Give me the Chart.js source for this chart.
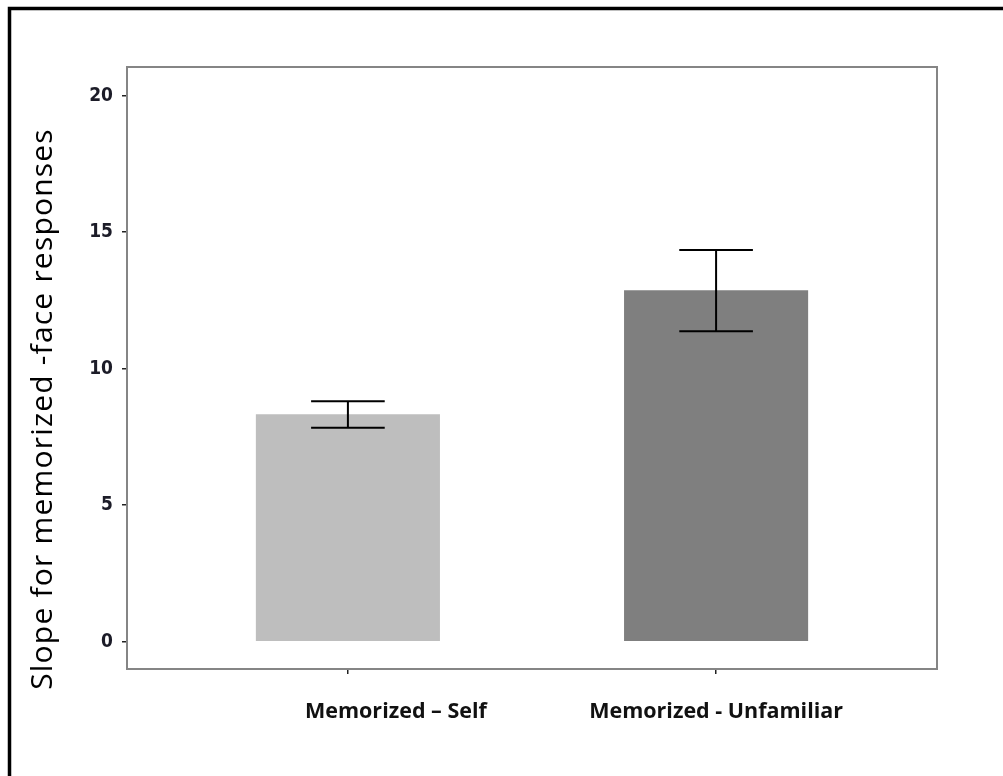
<!DOCTYPE html>
<html>
<head>
<meta charset="utf-8">
<script src="https://cdn.jsdelivr.net/npm/chart.js@4/dist/chart.umd.min.js"></script>
<style>
  html, body { margin: 0; padding: 0; background: #fff; }
  #wrap { position: relative; width: 1003px; height: 776px; }
</style>
</head>
<body>
<div id="wrap"><canvas id="c"></canvas></div>
<script>
// Conditions, mean slopes and the standard-error bounds for each bar
const categories = ['Memorized – Self', 'Memorized - Unfamiliar'];
const categoryPositions = [1, 2];
const meanSlope = [8.33, 12.87];
const errorLow = [7.84, 11.37];
const errorHigh = [8.81, 14.35];
const barColors = ['#bebebe', '#7f7f7f'];
const yTicks = [0, 5, 10, 15, 20];
const yTitle = 'Slope for memorized -face responses';

const tickFont = { family: '"Liberation Sans Narrow", "DejaVu Sans Condensed", "Liberation Sans", sans-serif', size: 19, weight: 'bold' };
const catFont = 'bold 21.5px "Open Sans", "Liberation Sans", sans-serif';

// Outer black frame, the grey panel box, the rotated y title and the condition labels
const framePlugin = {
  id: 'frame',
  beforeDraw(chart) {
    const ctx = chart.ctx;
    ctx.save();
    ctx.fillStyle = '#fff';
    ctx.fillRect(0, 0, chart.width, chart.height);
    ctx.strokeStyle = '#000';
    ctx.lineWidth = 3.5;
    ctx.strokeRect(9.5, 8.5, chart.width + 20, chart.height + 20);
    ctx.restore();
  },
  afterDraw(chart) {
    const { ctx, chartArea: a, scales: { x } } = chart;
    ctx.save();
    ctx.strokeStyle = '#858585';
    ctx.lineWidth = 2;
    ctx.strokeRect(a.left, a.top, a.right - a.left, a.bottom - a.top);

    // condition labels; the first one sits a little right of its tick
    const labelShift = [48, 0];
    ctx.fillStyle = '#111';
    ctx.font = catFont;
    ctx.textAlign = 'center';
    ctx.textBaseline = 'middle';
    categoryPositions.forEach((pos, i) => {
      ctx.fillText(categories[i], x.getPixelForValue(pos) + labelShift[i], a.bottom + 43);
    });

    ctx.translate(43, 409);
    ctx.rotate(-Math.PI / 2);
    ctx.fillStyle = '#000';
    ctx.font = '30px "Open Sans", "Liberation Sans", sans-serif';
    if ('letterSpacing' in ctx) ctx.letterSpacing = '1.2px';
    ctx.fillText(yTitle, 0, 0);
    ctx.restore();
  }
};

// Whiskers with caps drawn from the error bounds through the chart scales
const errorBarPlugin = {
  id: 'errorBars',
  afterDatasetsDraw(chart) {
    const { ctx, scales: { x, y } } = chart;
    ctx.save();
    ctx.strokeStyle = '#000';
    ctx.lineWidth = 2;
    categoryPositions.forEach((pos, i) => {
      const cx = x.getPixelForValue(pos);
      const l = x.getPixelForValue(pos - 0.1);
      const r = x.getPixelForValue(pos + 0.1);
      const yl = y.getPixelForValue(errorLow[i]);
      const yh = y.getPixelForValue(errorHigh[i]);
      ctx.beginPath();
      ctx.moveTo(cx, yl); ctx.lineTo(cx, yh);
      ctx.moveTo(l, yl); ctx.lineTo(r, yl);
      ctx.moveTo(l, yh); ctx.lineTo(r, yh);
      ctx.stroke();
    });
    ctx.restore();
  }
};

new Chart(document.getElementById('c'), {
  type: 'bar',
  data: {
    datasets: [{
      data: categoryPositions.map((p, i) => ({ x: p, y: meanSlope[i] })),
      backgroundColor: barColors,
      borderWidth: 0,
      barPercentage: 0.5,
      categoryPercentage: 1
    }]
  },
  options: {
    responsive: true,
    maintainAspectRatio: false,
    animation: false,
    layout: { padding: { top: 67, right: 66, left: 0, bottom: 0 } },
    plugins: { legend: { display: false }, tooltip: { enabled: false } },
    scales: {
      x: {
        type: 'linear',
        offset: false,
        min: 0.4,
        max: 2.6,
        afterBuildTicks(s) { s.ticks = categoryPositions.map(v => ({ value: v })); },
        afterFit(s) { s.height = 107; },
        border: { display: false },
        grid: { offset: false, drawOnChartArea: false, drawTicks: true, tickLength: 5, tickColor: '#222', lineWidth: 1.5 },
        ticks: { display: false }
      },
      y: {
        min: -1,
        max: 21.05,
        afterBuildTicks(s) { s.ticks = yTicks.map(v => ({ value: v })); },
        afterFit(s) { s.width = 127; },
        border: { display: false },
        grid: { drawOnChartArea: false, drawTicks: true, tickLength: 5, tickColor: '#222', lineWidth: 1.5 },
        ticks: { color: '#1c1c28', font: tickFont, padding: 9 }
      }
    }
  },
  plugins: [framePlugin, errorBarPlugin]
});
</script>
</body>
</html>
